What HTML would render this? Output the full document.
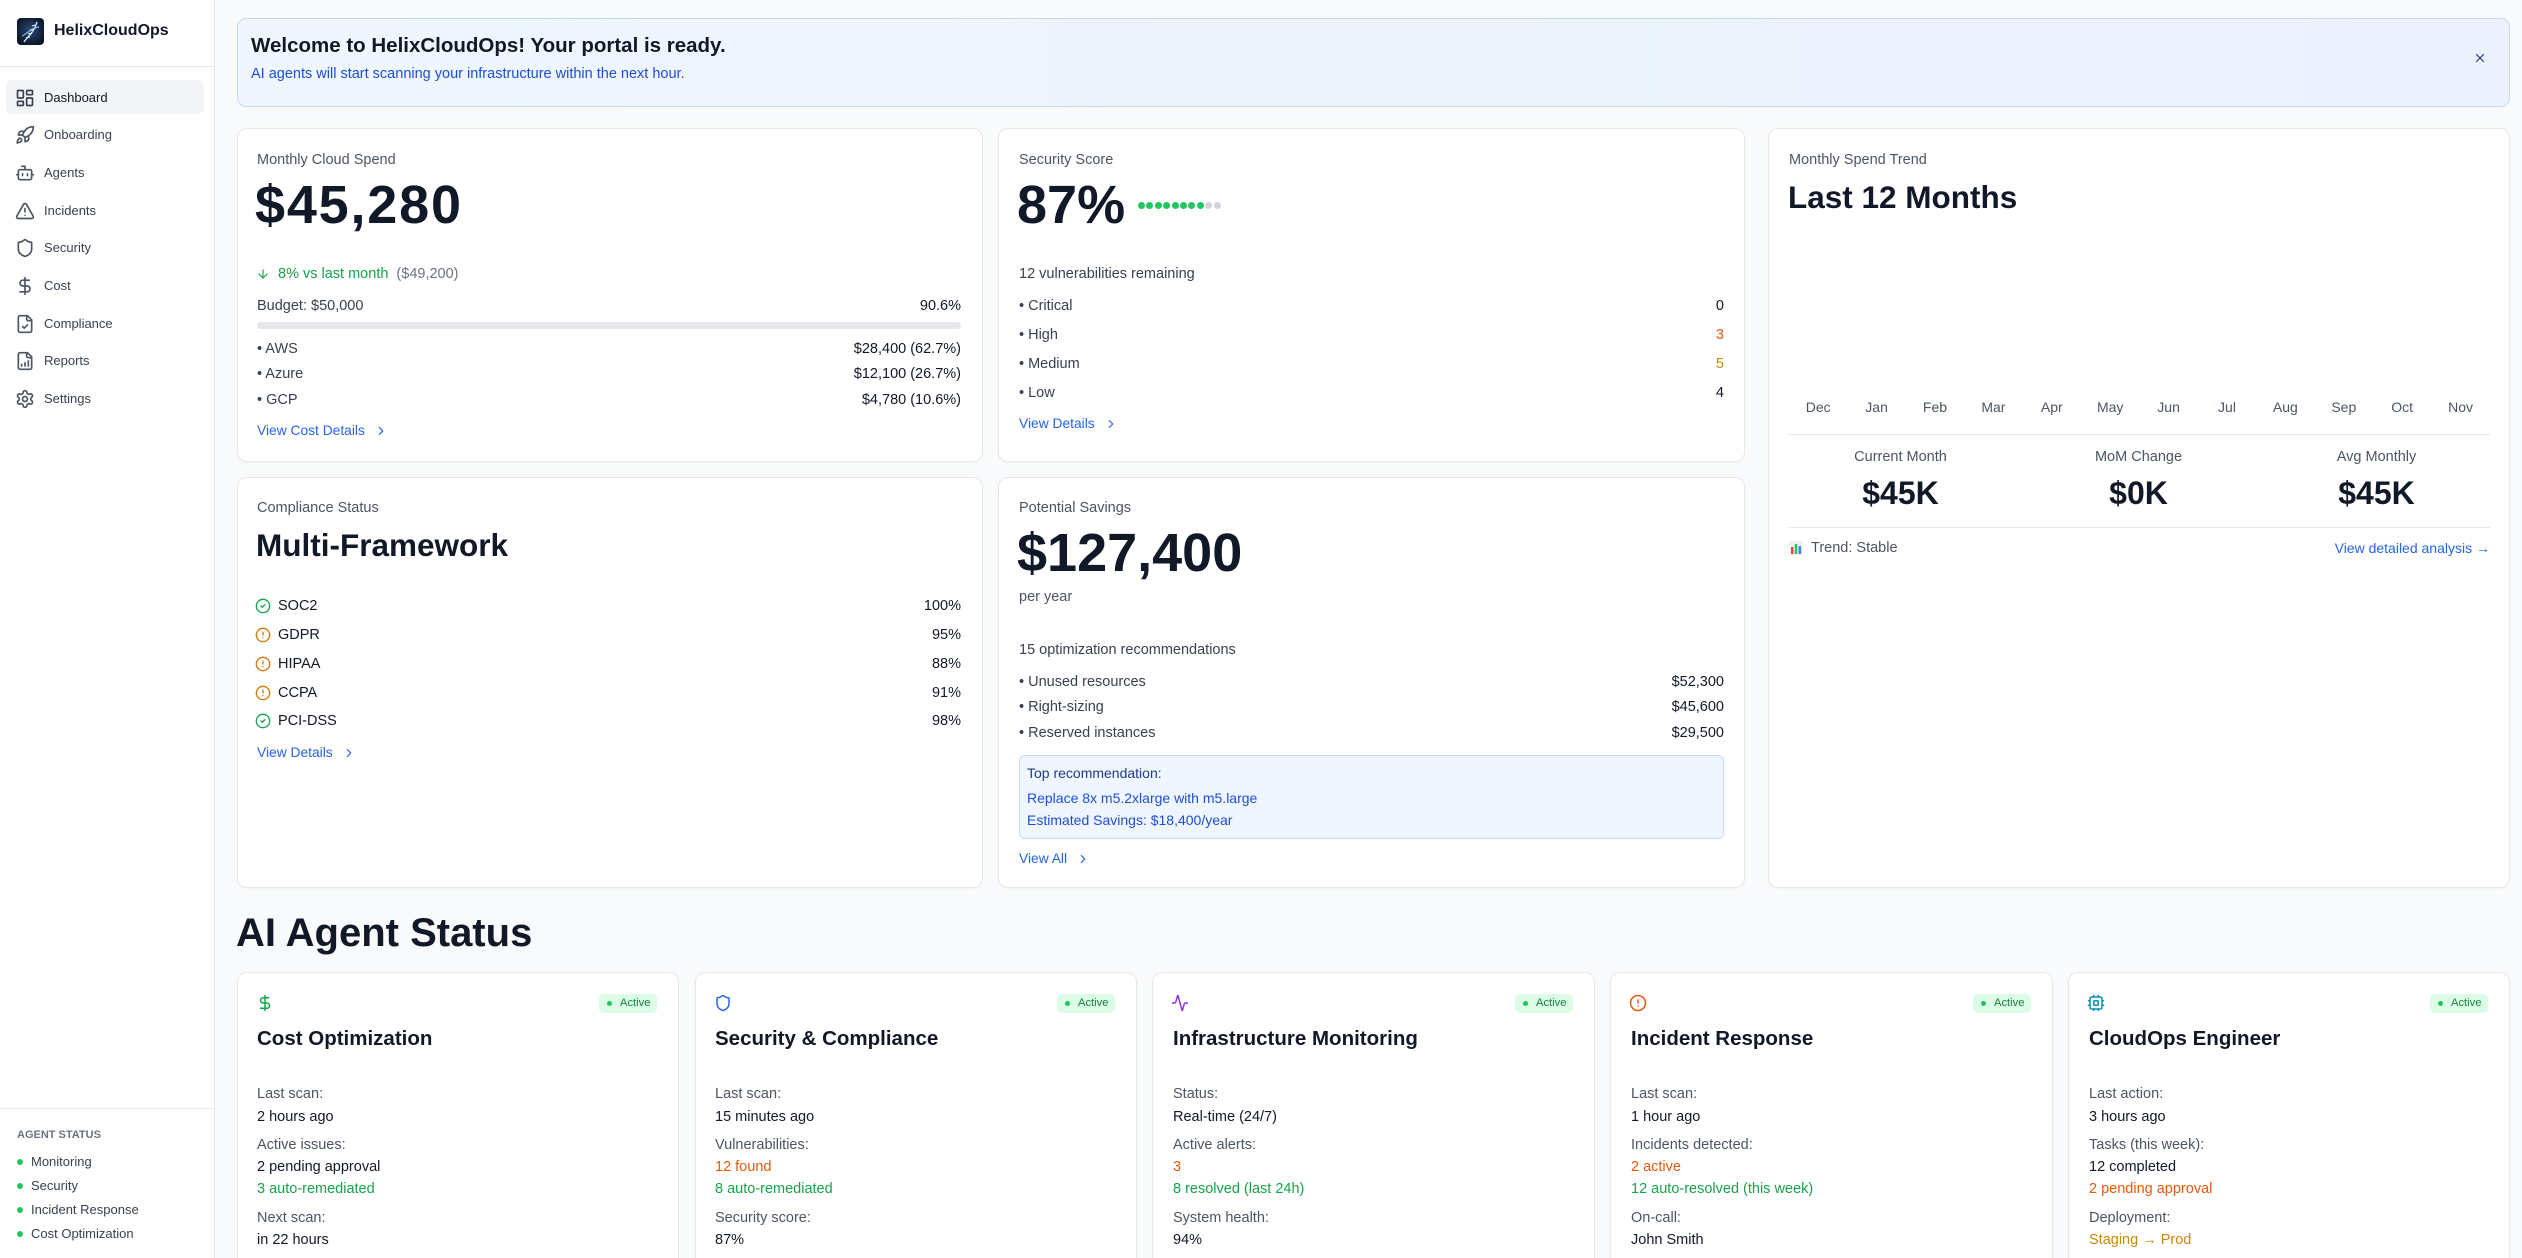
<!DOCTYPE html>
<html><head><meta charset="utf-8"><style>
*{margin:0;padding:0;box-sizing:border-box}
html,body{width:2522px;height:1258px;overflow:hidden;background:#f9fafb;font-family:"Liberation Sans",Arial,sans-serif;color:#111827}
#root{position:absolute;left:0;top:0;width:2522px;height:1258px;overflow:hidden;background:#f9fafb}
.a{position:absolute;white-space:nowrap}
.r{font-size:14.5px;line-height:20px}
.lbl{color:#4b5563}
.card{position:absolute;background:#fff;border:1px solid #e5e7eb;border-radius:10px;box-shadow:0 1px 2px rgba(0,0,0,0.03)}
.lnk{color:#2563eb;font-size:13.8px;line-height:20px;display:flex;align-items:center}
.lnk svg{margin-left:9px}
svg{display:block}
.ic{fill:none;stroke-linecap:round;stroke-linejoin:round;stroke-width:2}
.nav{font-size:13px;line-height:20px;color:#374151}
.big{font-size:54px;line-height:60px;font-weight:700;color:#111827}
.h2{font-size:31.5px;line-height:36px;font-weight:700;color:#111827}
.g{color:#16a34a}.o{color:#ea580c}.y{color:#ca8a04}
.badge{position:absolute;width:58px;height:19px;background:#dcfce7;border-radius:5px;color:#15803d;font-size:11.2px;line-height:19px}
.badge i{position:absolute;left:8px;top:7px;width:5px;height:5px;border-radius:50%;background:#22c55e}
.badge span{position:absolute;left:21px;top:0}
.at{font-size:20.5px;line-height:26px;font-weight:700;color:#111827}
.sl{font-size:14.5px;line-height:20px;color:#4b5563;text-align:center;position:absolute;width:233px}
.sv{font-size:32px;line-height:36px;font-weight:700;color:#111827;text-align:center;position:absolute;width:233px}
.mo{position:absolute;width:58.4px;text-align:center;font-size:14px;line-height:20px;color:#4b5563}
.dot{position:absolute;width:7px;height:7px;border-radius:50%;top:202px}
</style></head><body><div id="root">

<!-- Sidebar -->
<div class="a" style="left:0;top:0;width:215px;height:1258px;background:#fff;border-right:1px solid #e5e7eb"></div>
<div class="a" style="left:17px;top:18px;width:27px;height:27px;border-radius:4px;background:radial-gradient(circle at 50% 45%,#2b4a73 0%,#0d1b2e 70%,#060c16 100%);overflow:hidden">
<svg width="27" height="27" viewBox="0 0 27 27"><path d="M7 24 C11 18,16 16,20 4" stroke="#cfe3ff" stroke-width="1.4" fill="none"/><path d="M5 18 C10 16,14 10,22 9" stroke="#8fb8ea" stroke-width="1.2" fill="none"/><path d="M9 20l4-1M11 16l4-1M13 12l4-1M15 8l3-1" stroke="#e6f0ff" stroke-width="1"/></svg></div>
<div class="a" style="left:54px;top:21px;font-size:16px;line-height:20px;font-weight:700;color:#111827">HelixCloudOps</div>
<div class="a" style="left:0;top:66px;width:214px;height:1px;background:#e5e7eb"></div>

<div class="a" style="left:6px;top:80px;width:198px;height:34px;border-radius:6px;background:#f3f4f6"></div>
<svg class="a ic" style="left:15px;top:88px" width="20" height="20" viewBox="0 0 24 24" stroke="#374151"><rect x="3" y="3" width="7" height="9" rx="1"/><rect x="14" y="3" width="7" height="5" rx="1"/><rect x="14" y="12" width="7" height="9" rx="1"/><rect x="3" y="16" width="7" height="5" rx="1"/></svg>
<div class="a nav" style="left:44px;top:88px;color:#111827">Dashboard</div>
<svg class="a ic" style="left:15px;top:125px" width="20" height="20" viewBox="0 0 24 24" stroke="#4b5563"><path d="M4.5 16.5c-1.5 1.26-2 5-2 5s3.74-.5 5-2c.71-.84.7-2.130-.09-2.91a2.18 2.18 0 0 0-2.91-.09z"/><path d="m12 15-3-3a22 22 0 0 1 2-3.950A12.88 12.88 0 0 1 22 2c0 2.72-.78 7.5-6 11a22.35 22.35 0 0 1-4 2z"/><path d="M9 12H4s.55-3.03 2-4c1.62-1.08 5 0 5 0"/><path d="M12 15v5s3.03-.55 4-2c1.08-1.62 0-5 0-5"/></svg>
<div class="a nav" style="left:44px;top:125px">Onboarding</div>
<svg class="a ic" style="left:15px;top:163px" width="20" height="20" viewBox="0 0 24 24" stroke="#4b5563"><path d="M12 8V4H8"/><rect x="4" y="8" width="16" height="12" rx="2"/><path d="M2 14h2M20 14h2M15 13v2M9 13v2"/></svg>
<div class="a nav" style="left:44px;top:163px">Agents</div>
<svg class="a ic" style="left:15px;top:201px" width="20" height="20" viewBox="0 0 24 24" stroke="#4b5563"><path d="m21.73 18-8-14a2 2 0 0 0-3.48 0l-8 14A2 2 0 0 0 4 21h16a2 2 0 0 0 1.73-3"/><path d="M12 9v4M12 17h.01"/></svg>
<div class="a nav" style="left:44px;top:201px">Incidents</div>
<svg class="a ic" style="left:15px;top:238px" width="20" height="20" viewBox="0 0 24 24" stroke="#4b5563"><path d="M20 13c0 5-3.5 7.5-7.66 8.95a1 1 0 0 1-.67-.01C7.5 20.5 4 18 4 13V6a1 1 0 0 1 1-1c2 0 4.5-1.2 6.24-2.72a1.17 1.17 0 0 1 1.520 0C14.51 3.81 17 5 19 5a1 1 0 0 1 1 1z"/></svg>
<div class="a nav" style="left:44px;top:238px">Security</div>
<svg class="a ic" style="left:15px;top:276px" width="20" height="20" viewBox="0 0 24 24" stroke="#4b5563"><path d="M12 2v20"/><path d="M17 5H9.5a3.5 3.5 0 0 0 0 7h5a3.5 3.5 0 0 1 0 7H6"/></svg>
<div class="a nav" style="left:44px;top:276px">Cost</div>
<svg class="a ic" style="left:15px;top:314px" width="20" height="20" viewBox="0 0 24 24" stroke="#4b5563"><path d="M15 2H6a2 2 0 0 0-2 2v16a2 2 0 0 0 2 2h12a2 2 0 0 0 2-2V7Z"/><path d="M14 2v4a2 2 0 0 0 2 2h4"/><path d="m9 15 2 2 4-4"/></svg>
<div class="a nav" style="left:44px;top:314px">Compliance</div>
<svg class="a ic" style="left:15px;top:351px" width="20" height="20" viewBox="0 0 24 24" stroke="#4b5563"><path d="M15 2H6a2 2 0 0 0-2 2v16a2 2 0 0 0 2 2h12a2 2 0 0 0 2-2V7Z"/><path d="M14 2v4a2 2 0 0 0 2 2h4"/><path d="M8 18v-2M12 18v-4M16 18v-6"/></svg>
<div class="a nav" style="left:44px;top:351px">Reports</div>
<svg class="a ic" style="left:15px;top:389px" width="20" height="20" viewBox="0 0 24 24" stroke="#4b5563"><path d="M12.22 2h-.44a2 2 0 0 0-2 2v.18a2 2 0 0 1-1 1.73l-.43.25a2 2 0 0 1-2 0l-.15-.08a2 2 0 0 0-2.73.73l-.22.38a2 2 0 0 0 .73 2.73l.15.1a2 2 0 0 1 1 1.72v.51a2 2 0 0 1-1 1.74l-.15.09a2 2 0 0 0-.73 2.73l.22.38a2 2 0 0 0 2.73.73l.15-.08a2 2 0 0 1 2 0l.43.25a2 2 0 0 1 1 1.73V20a2 2 0 0 0 2 2h.44a2 2 0 0 0 2-2v-.18a2 2 0 0 1 1-1.73l.43-.25a2 2 0 0 1 2 0l.15.08a2 2 0 0 0 2.73-.73l.22-.39a2 2 0 0 0-.73-2.73l-.15-.08a2 2 0 0 1-1-1.74v-.5a2 2 0 0 1 1-1.74l.15-.09a2 2 0 0 0 .73-2.73l-.22-.38a2 2 0 0 0-2.73-.73l-.15.08a2 2 0 0 1-2 0l-.43-.25a2 2 0 0 1-1-1.73V4a2 2 0 0 0-2-2z"/><circle cx="12" cy="12" r="3"/></svg>
<div class="a nav" style="left:44px;top:389px">Settings</div>

<div class="a" style="left:0;top:1108px;width:214px;height:1px;background:#e5e7eb"></div>
<div class="a" style="left:17px;top:1128px;font-size:11px;line-height:14px;font-weight:700;color:#6b7280">AGENT STATUS</div>
<div class="a" style="left:17px;top:1159px;width:6px;height:6px;border-radius:50%;background:#22c55e"></div>
<div class="a nav" style="left:31px;top:1152px">Monitoring</div>
<div class="a" style="left:17px;top:1183px;width:6px;height:6px;border-radius:50%;background:#22c55e"></div>
<div class="a nav" style="left:31px;top:1176px">Security</div>
<div class="a" style="left:17px;top:1207px;width:6px;height:6px;border-radius:50%;background:#22c55e"></div>
<div class="a nav" style="left:31px;top:1200px">Incident Response</div>
<div class="a" style="left:17px;top:1231px;width:6px;height:6px;border-radius:50%;background:#22c55e"></div>
<div class="a nav" style="left:31px;top:1224px">Cost Optimization</div>

<!-- Welcome banner -->
<div class="a" style="left:237px;top:18px;width:2273px;height:89px;border:1px solid #bfdbfe;border-radius:9px;background:linear-gradient(90deg,#eff6ff,#ebf2fe)"></div>
<div class="a" style="left:251px;top:33px;font-size:20.5px;line-height:26px;font-weight:700;color:#111827">Welcome to HelixCloudOps! Your portal is ready.</div>
<div class="a r" style="left:251px;top:64px;color:#1d4ed8">AI agents will start scanning your infrastructure within the next hour.</div>
<svg class="a ic" style="left:2473px;top:51px" width="14" height="14" viewBox="0 0 24 24" stroke="#1e3a8a"><path d="M18 6 6 18M6 6l12 12"/></svg>

<!-- Cards -->
<div class="card" style="left:237px;top:128px;width:746px;height:334px"></div>
<div class="card" style="left:998px;top:128px;width:747px;height:334px"></div>
<div class="card" style="left:1768px;top:128px;width:742px;height:760px"></div>
<div class="card" style="left:237px;top:477px;width:746px;height:411px"></div>
<div class="card" style="left:998px;top:477px;width:747px;height:411px"></div>

<!-- Card 1 -->
<div class="a r lbl" style="left:257px;top:150px">Monthly Cloud Spend</div>
<div class="a big" style="left:255px;top:175px;letter-spacing:1.8px">$45,280</div>
<svg class="a ic" style="left:256px;top:267px" width="14" height="14" viewBox="0 0 24 24" stroke="#16a34a"><path d="M12 5v14M19 12l-7 7-7-7"/></svg>
<div class="a r" style="left:278px;top:264px"><span class="g">8% vs last month</span><span style="color:#6b7280;margin-left:8px">($49,200)</span></div>
<div class="a r" style="left:257px;top:296px;color:#374151">Budget: $50,000</div>
<div class="a r" style="right:1561px;top:296px">90.6%</div>
<div class="a" style="left:257px;top:322px;width:704px;height:7px;border-radius:4px;background:#e5e7eb"></div>
<div class="a r" style="left:257px;top:339px;color:#374151">• AWS</div>
<div class="a r" style="right:1561px;top:339px">$28,400 (62.7%)</div>
<div class="a r" style="left:257px;top:364px;color:#374151">• Azure</div>
<div class="a r" style="right:1561px;top:364px">$12,100 (26.7%)</div>
<div class="a r" style="left:257px;top:390px;color:#374151">• GCP</div>
<div class="a r" style="right:1561px;top:390px">$4,780 (10.6%)</div>
<div class="a lnk" style="left:257px;top:421px">View Cost Details<svg class="ic" width="14" height="14" viewBox="0 0 24 24" stroke="#2563eb"><path d="m9 18 6-6-6-6"/></svg></div>

<!-- Card 2 -->
<div class="a r lbl" style="left:1019px;top:150px">Security Score</div>
<div class="a big" style="left:1017px;top:175px">87%</div>
<div class="dot" style="left:1138px;background:#22c55e"></div>
<div class="dot" style="left:1146.4px;background:#22c55e"></div>
<div class="dot" style="left:1154.8px;background:#22c55e"></div>
<div class="dot" style="left:1163.2px;background:#22c55e"></div>
<div class="dot" style="left:1171.6px;background:#22c55e"></div>
<div class="dot" style="left:1180px;background:#22c55e"></div>
<div class="dot" style="left:1188.4px;background:#22c55e"></div>
<div class="dot" style="left:1196.8px;background:#22c55e"></div>
<div class="dot" style="left:1205.2px;background:#d1d5db"></div>
<div class="dot" style="left:1213.6px;background:#d1d5db"></div>
<div class="a r" style="left:1019px;top:264px;color:#374151">12 vulnerabilities remaining</div>
<div class="a r" style="left:1019px;top:296px;color:#374151">• Critical</div>
<div class="a r" style="right:798px;top:296px">0</div>
<div class="a r" style="left:1019px;top:325px;color:#374151">• High</div>
<div class="a r o" style="right:798px;top:325px">3</div>
<div class="a r" style="left:1019px;top:354px;color:#374151">• Medium</div>
<div class="a r y" style="right:798px;top:354px">5</div>
<div class="a r" style="left:1019px;top:383px;color:#374151">• Low</div>
<div class="a r" style="right:798px;top:383px">4</div>
<div class="a lnk" style="left:1019px;top:414px">View Details<svg class="ic" width="14" height="14" viewBox="0 0 24 24" stroke="#2563eb"><path d="m9 18 6-6-6-6"/></svg></div>

<!-- Card 3 trend -->
<div class="a r lbl" style="left:1789px;top:150px">Monthly Spend Trend</div>
<div class="a h2" style="left:1788px;top:179px">Last 12 Months</div>
<div class="mo" style="left:1789px;top:397px">Dec</div>
<div class="mo" style="left:1847.4px;top:397px">Jan</div>
<div class="mo" style="left:1905.8px;top:397px">Feb</div>
<div class="mo" style="left:1964.2px;top:397px">Mar</div>
<div class="mo" style="left:2022.6px;top:397px">Apr</div>
<div class="mo" style="left:2081px;top:397px">May</div>
<div class="mo" style="left:2139.4px;top:397px">Jun</div>
<div class="mo" style="left:2197.8px;top:397px">Jul</div>
<div class="mo" style="left:2256.2px;top:397px">Aug</div>
<div class="mo" style="left:2314.6px;top:397px">Sep</div>
<div class="mo" style="left:2373px;top:397px">Oct</div>
<div class="mo" style="left:2431.4px;top:397px">Nov</div>
<div class="a" style="left:1789px;top:434px;width:701px;height:1px;background:#e5e7eb"></div>
<div class="sl" style="left:1784px;top:447px">Current Month</div>
<div class="sl" style="left:2022px;top:447px">MoM Change</div>
<div class="sl" style="left:2260px;top:447px">Avg Monthly</div>
<div class="sv" style="left:1784px;top:475px">$45K</div>
<div class="sv" style="left:2022px;top:475px">$0K</div>
<div class="sv" style="left:2260px;top:475px">$45K</div>
<div class="a" style="left:1789px;top:527px;width:701px;height:1px;background:#e5e7eb"></div>
<svg class="a" style="left:1789px;top:541px" width="14" height="14" viewBox="0 0 14 14"><rect x="0" y="0" width="14" height="14" rx="1.5" fill="#eef2f7"/><rect x="2" y="6" width="2.5" height="7" fill="#ef4444"/><rect x="5.8" y="3" width="2.5" height="10" fill="#22c55e"/><rect x="9.6" y="5" width="2.5" height="8" fill="#3b82f6"/></svg>
<div class="a r lbl" style="left:1811px;top:538px">Trend: Stable</div>
<div class="a r" style="right:32px;top:538px;color:#2563eb;font-size:14px">View detailed analysis →</div>

<!-- Card 4 compliance -->
<div class="a r lbl" style="left:257px;top:498px">Compliance Status</div>
<div class="a h2" style="left:256px;top:527px">Multi-Framework</div>
<svg class="a ic" style="left:255px;top:598px" width="16" height="16" viewBox="0 0 24 24" stroke="#16a34a"><circle cx="12" cy="12" r="10"/><path d="m9 12 2 2 4-4"/></svg>
<div class="a r" style="left:278px;top:596px;color:#111827">SOC2</div>
<div class="a r" style="right:1561px;top:596px">100%</div>
<svg class="a ic" style="left:255px;top:627px" width="16" height="16" viewBox="0 0 24 24" stroke="#d97706"><circle cx="12" cy="12" r="10"/><path d="M12 8v4M12 16h.01"/></svg>
<div class="a r" style="left:278px;top:625px;color:#111827">GDPR</div>
<div class="a r" style="right:1561px;top:625px">95%</div>
<svg class="a ic" style="left:255px;top:656px" width="16" height="16" viewBox="0 0 24 24" stroke="#d97706"><circle cx="12" cy="12" r="10"/><path d="M12 8v4M12 16h.01"/></svg>
<div class="a r" style="left:278px;top:654px;color:#111827">HIPAA</div>
<div class="a r" style="right:1561px;top:654px">88%</div>
<svg class="a ic" style="left:255px;top:685px" width="16" height="16" viewBox="0 0 24 24" stroke="#d97706"><circle cx="12" cy="12" r="10"/><path d="M12 8v4M12 16h.01"/></svg>
<div class="a r" style="left:278px;top:683px;color:#111827">CCPA</div>
<div class="a r" style="right:1561px;top:683px">91%</div>
<svg class="a ic" style="left:255px;top:713px" width="16" height="16" viewBox="0 0 24 24" stroke="#16a34a"><circle cx="12" cy="12" r="10"/><path d="m9 12 2 2 4-4"/></svg>
<div class="a r" style="left:278px;top:711px;color:#111827">PCI-DSS</div>
<div class="a r" style="right:1561px;top:711px">98%</div>
<div class="a lnk" style="left:257px;top:743px">View Details<svg class="ic" width="14" height="14" viewBox="0 0 24 24" stroke="#2563eb"><path d="m9 18 6-6-6-6"/></svg></div>

<!-- Card 5 savings -->
<div class="a r lbl" style="left:1019px;top:498px">Potential Savings</div>
<div class="a big" style="left:1017px;top:523px">$127,400</div>
<div class="a r lbl" style="left:1019px;top:587px">per year</div>
<div class="a r" style="left:1019px;top:640px;color:#374151">15 optimization recommendations</div>
<div class="a r" style="left:1019px;top:672px;color:#374151">• Unused resources</div>
<div class="a r" style="right:798px;top:672px">$52,300</div>
<div class="a r" style="left:1019px;top:697px;color:#374151">• Right-sizing</div>
<div class="a r" style="right:798px;top:697px">$45,600</div>
<div class="a r" style="left:1019px;top:723px;color:#374151">• Reserved instances</div>
<div class="a r" style="right:798px;top:723px">$29,500</div>
<div class="a" style="left:1019px;top:755px;width:705px;height:84px;border:1px solid #bfdbfe;border-radius:6px;background:#eff6ff"></div>
<div class="a r" style="left:1027px;top:763px;color:#1e3a8a;font-size:14px">Top recommendation:</div>
<div class="a r" style="left:1027px;top:788px;color:#1d4ed8;font-size:14px">Replace 8x m5.2xlarge with m5.large</div>
<div class="a r" style="left:1027px;top:810px;color:#1d4ed8;font-size:14px">Estimated Savings: $18,400/year</div>
<div class="a lnk" style="left:1019px;top:849px">View All<svg class="ic" width="14" height="14" viewBox="0 0 24 24" stroke="#2563eb"><path d="m9 18 6-6-6-6"/></svg></div>

<!-- AI Agent Status -->
<div class="a" style="left:236px;top:911px;font-size:40px;line-height:44px;font-weight:700;color:#111827">AI Agent Status</div>

<div class="card" style="left:237px;top:972px;width:442px;height:330px"></div>
<div class="card" style="left:695px;top:972px;width:442px;height:330px"></div>
<div class="card" style="left:1152px;top:972px;width:443px;height:330px"></div>
<div class="card" style="left:1610px;top:972px;width:443px;height:330px"></div>
<div class="card" style="left:2068px;top:972px;width:442px;height:330px"></div>

<!-- agent 1 -->
<svg class="a ic" style="left:256px;top:994px" width="18" height="18" viewBox="0 0 24 24" stroke="#16a34a"><path d="M12 2v20"/><path d="M17 5H9.5a3.5 3.5 0 0 0 0 7h5a3.5 3.5 0 0 1 0 7H6"/></svg>
<div class="badge" style="left:599px;top:994px"><i></i><span>Active</span></div>
<div class="a at" style="left:257px;top:1026px">Cost Optimization</div>
<div class="a r lbl" style="left:257px;top:1084px">Last scan:</div>
<div class="a r" style="left:257px;top:1107px">2 hours ago</div>
<div class="a r lbl" style="left:257px;top:1135px">Active issues:</div>
<div class="a r" style="left:257px;top:1157px">2 pending approval</div>
<div class="a r g" style="left:257px;top:1179px">3 auto-remediated</div>
<div class="a r lbl" style="left:257px;top:1208px">Next scan:</div>
<div class="a r" style="left:257px;top:1230px">in 22 hours</div>

<!-- agent 2 -->
<svg class="a ic" style="left:714px;top:994px" width="18" height="18" viewBox="0 0 24 24" stroke="#2563eb"><path d="M20 13c0 5-3.5 7.5-7.66 8.95a1 1 0 0 1-.67-.01C7.5 20.5 4 18 4 13V6a1 1 0 0 1 1-1c2 0 4.5-1.2 6.24-2.72a1.17 1.17 0 0 1 1.52 0C14.51 3.81 17 5 19 5a1 1 0 0 1 1 1z"/></svg>
<div class="badge" style="left:1057px;top:994px"><i></i><span>Active</span></div>
<div class="a at" style="left:715px;top:1026px">Security &amp; Compliance</div>
<div class="a r lbl" style="left:715px;top:1084px">Last scan:</div>
<div class="a r" style="left:715px;top:1107px">15 minutes ago</div>
<div class="a r lbl" style="left:715px;top:1135px">Vulnerabilities:</div>
<div class="a r o" style="left:715px;top:1157px">12 found</div>
<div class="a r g" style="left:715px;top:1179px">8 auto-remediated</div>
<div class="a r lbl" style="left:715px;top:1208px">Security score:</div>
<div class="a r" style="left:715px;top:1230px">87%</div>

<!-- agent 3 -->
<svg class="a ic" style="left:1171px;top:994px" width="18" height="18" viewBox="0 0 24 24" stroke="#9333ea"><path d="M22 12h-2.48a2 2 0 0 0-1.93 1.46l-2.35 8.36a.25.25 0 0 1-.48 0L9.24 2.18a.25.25 0 0 0-.48 0l-2.35 8.36A2 2 0 0 1 4.49 12H2"/></svg>
<div class="badge" style="left:1515px;top:994px"><i></i><span>Active</span></div>
<div class="a at" style="left:1173px;top:1026px">Infrastructure Monitoring</div>
<div class="a r lbl" style="left:1173px;top:1084px">Status:</div>
<div class="a r" style="left:1173px;top:1107px">Real-time (24/7)</div>
<div class="a r lbl" style="left:1173px;top:1135px">Active alerts:</div>
<div class="a r o" style="left:1173px;top:1157px">3</div>
<div class="a r g" style="left:1173px;top:1179px">8 resolved (last 24h)</div>
<div class="a r lbl" style="left:1173px;top:1208px">System health:</div>
<div class="a r" style="left:1173px;top:1230px">94%</div>

<!-- agent 4 -->
<svg class="a ic" style="left:1629px;top:994px" width="18" height="18" viewBox="0 0 24 24" stroke="#ea580c"><circle cx="12" cy="12" r="10"/><path d="M12 8v4M12 16h.01"/></svg>
<div class="badge" style="left:1973px;top:994px"><i></i><span>Active</span></div>
<div class="a at" style="left:1631px;top:1026px">Incident Response</div>
<div class="a r lbl" style="left:1631px;top:1084px">Last scan:</div>
<div class="a r" style="left:1631px;top:1107px">1 hour ago</div>
<div class="a r lbl" style="left:1631px;top:1135px">Incidents detected:</div>
<div class="a r o" style="left:1631px;top:1157px">2 active</div>
<div class="a r g" style="left:1631px;top:1179px">12 auto-resolved (this week)</div>
<div class="a r lbl" style="left:1631px;top:1208px">On-call:</div>
<div class="a r" style="left:1631px;top:1230px">John Smith</div>

<!-- agent 5 -->
<svg class="a ic" style="left:2087px;top:994px" width="18" height="18" viewBox="0 0 24 24" stroke="#0891b2"><rect x="4" y="4" width="16" height="16" rx="2"/><rect x="9" y="9" width="6" height="6" rx="1"/><path d="M15 2v2M15 20v2M2 15h2M2 9h2M20 15h2M20 9h2M9 2v2M9 20v2"/></svg>
<div class="badge" style="left:2430px;top:994px"><i></i><span>Active</span></div>
<div class="a at" style="left:2089px;top:1026px">CloudOps Engineer</div>
<div class="a r lbl" style="left:2089px;top:1084px">Last action:</div>
<div class="a r" style="left:2089px;top:1107px">3 hours ago</div>
<div class="a r lbl" style="left:2089px;top:1135px">Tasks (this week):</div>
<div class="a r" style="left:2089px;top:1157px">12 completed</div>
<div class="a r o" style="left:2089px;top:1179px">2 pending approval</div>
<div class="a r lbl" style="left:2089px;top:1208px">Deployment:</div>
<div class="a r y" style="left:2089px;top:1230px">Staging → Prod</div>

</div></body></html>
